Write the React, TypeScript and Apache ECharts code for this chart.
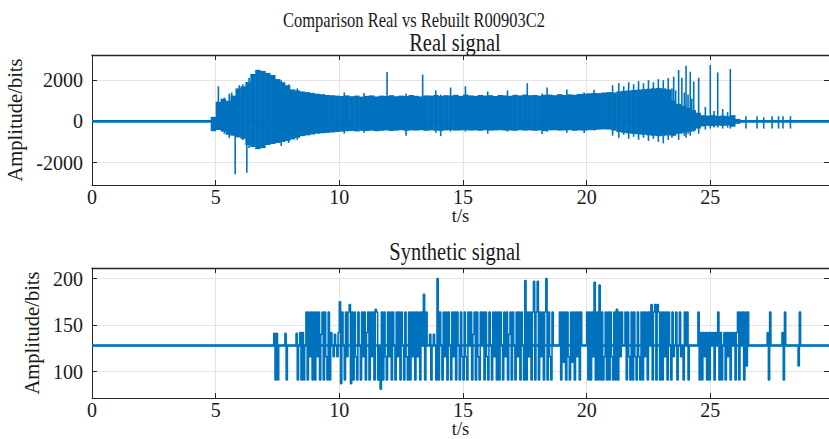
import React, { useEffect, useRef } from 'react';
import * as echarts from 'echarts';

const BLUE = '#0072BD';
const AXIS = '#262626';
const GRID = '#e4e4e4';
const FONT = '"Liberation Serif", "Times New Roman", serif';
const X_MAX = 29.8;

const mainTitle = 'Comparison Real vs Rebuilt R00903C2';
const realTitle = 'Real signal';
const synTitle = 'Synthetic signal';
const xName = 't/s';
const yName = 'Amplitude/bits';

// ---- Real signal: envelope per 0.2 s bin (starting at 4.8 s) ----
const envStart = 4.8;
const envStep = 0.2;
const envHigh = [
  220, 950, 1100, 1000, 1250, 1600, 1700, 1900, 2300, 2500,
  2450, 2350, 2250, 2050, 1900, 1750, 1550, 1500, 1450, 1420,
  1380, 1340, 1320, 1280, 1270, 1250, 1230, 1260, 1220, 1250,
  1200, 1240, 1260, 1210, 1250, 1230, 1270, 1220, 1250, 1230,
  1280, 1240, 1210, 1260, 1250, 1280, 1230, 1270, 1250, 1290,
  1240, 1300, 1260, 1240, 1280, 1250, 1270, 1230, 1280, 1260,
  1240, 1290, 1260, 1300, 1270, 1280, 1250, 1290, 1300, 1270,
  1320, 1280, 1310, 1290, 1330, 1340, 1360, 1380, 1370, 1400,
  1420, 1400, 1450, 1480, 1500, 1520, 1540, 1560, 1580, 1600,
  1620, 1600, 1550, 1000, 850, 750, 650, 550, 420, 300,
  280, 300, 260, 280, 250, 300, 120,
];
const envLow = [
  -480, -420, -500, -650, -700, -780, -850, -1150, -1250, -1350,
  -1300, -1150, -1100, -1050, -1000, -950, -880, -800, -720, -680,
  -640, -600, -580, -560, -540, -520, -500, -480, -470, -490,
  -460, -470, -450, -480, -460, -440, -470, -450, -430, -460,
  -440, -450, -430, -460, -440, -450, -470, -440, -430, -450,
  -440, -430, -450, -440, -460, -430, -450, -440, -430, -450,
  -440, -460, -430, -450, -440, -460, -440, -470, -440, -430,
  -450, -440, -430, -460, -440, -450, -430, -420, -400, -390,
  -400, -450, -520, -560, -590, -610, -630, -650, -680, -700,
  -720, -700, -680, -700, -600, -550, -500, -450, -350, -250,
  -220, -230, -210, -220, -200, -260, -120,
];

// ---- Real signal: isolated spikes (time, low, high) ----
const spikeT = [
  5.11, 5.35, 5.55, 5.65, 5.79, 5.95, 6.1, 6.26, 6.35, 7.65, 7.95, 8.3,
  10.2, 11.0, 11.93, 12.7, 13.37, 13.9, 14.1, 14.5, 15.1, 16.0, 16.8, 17.6,
  18.2, 18.4, 19.2, 19.9, 20.3, 21.05, 21.3, 21.5, 21.7, 21.9, 22.1, 22.3,
  22.5, 22.7, 22.9, 23.1, 23.3, 23.45, 23.52, 23.6, 23.72, 23.85, 23.95, 24.02,
  24.1, 24.19, 24.25, 24.33, 24.53, 24.8, 25.0, 25.15, 25.3, 25.5, 25.7, 25.81,
  26.44, 26.89, 27.16, 27.5, 27.76, 27.94, 28.24,
];
const spikeLo = [
  -300, -600, -800, -500, -2570, -700, -900, -2490, -1300, -1200, -1050, -900,
  -600, -550, -300, -700, -300, -550, -720, -500, -500, -600, -500, -400,
  -620, -500, -550, -560, -450, -700, -800, -650, -850, -750, -900, -800,
  -950, -850, -1000, -1070, -900, -800, -700, -650, -900, -600, -700, -800,
  -600, -700, -500, -500, -600, -400, -350, -300, -300, -350, -300, -350,
  -350, -350, -350, -350, -350, -350, -350,
];
const spikeHi = [
  1700, 1150, 1350, 1400, 900, 1750, 1800, 1900, 2100, 2000, 1800, 1600,
  1400, 1380, 2390, 1350, 2270, 1500, 1300, 1640, 1700, 1450, 1500, 1850,
  1350, 1640, 1550, 1400, 1530, 1750, 1850, 1700, 1900, 1800, 1950, 1850,
  2000, 1900, 2050, 2000, 2100, 1600, 2166, 1500, 2490, 2118, 1400, 2700,
  1300, 2409, 1100, 1925, 2118, 700, 2733, 500, 2377, 600, 450, 2539,
  250, 250, 200, 250, 250, 250, 250,
];
const realBaseline = [0, 0];

// ---- Synthetic signal: one value per 0.05 s from 7.0 s to 28.95 s (one row per second) ----
const synStart = 7.0;
const synStep = 0.05;
const synRest = 128;
const synValues = [
  128, 128, 128, 128, 128, 128, 128, 141, 91, 141, 91, 128, 128, 128, 128, 128, 141, 91, 128, 128,
  128, 128, 128, 128, 128, 141, 91, 128, 142, 91, 142, 91, 128, 164, 91, 164, 116, 164, 91, 164,
  91, 164, 116, 164, 91, 140, 164, 91, 164, 116, 91, 164, 91, 142, 128, 116, 140, 128, 116, 142,
  175, 87, 164, 128, 91, 164, 116, 164, 172, 87, 164, 91, 164, 116, 91, 164, 128, 91, 164, 116,
  164, 91, 142, 164, 91, 164, 116, 164, 91, 167, 164, 91, 128, 81, 164, 91, 164, 116, 91, 164,
  116, 164, 91, 164, 128, 91, 164, 116, 164, 91, 164, 128, 91, 164, 116, 91, 164, 91, 164, 116,
  164, 91, 164, 116, 164, 91, 164, 128, 183, 91, 164, 128, 128, 140, 91, 128, 140, 128, 91, 200,
  91, 164, 128, 91, 164, 116, 164, 91, 164, 128, 91, 164, 116, 164, 91, 164, 128, 91, 164, 116,
  91, 164, 116, 91, 164, 128, 164, 91, 140, 164, 91, 164, 116, 91, 164, 128, 164, 91, 164, 116,
  91, 164, 128, 91, 164, 116, 164, 91, 164, 91, 164, 128, 91, 164, 116, 164, 91, 140, 164, 91,
  164, 128, 91, 164, 116, 164, 91, 164, 128, 91, 198, 91, 164, 116, 164, 91, 164, 197, 91, 164,
  197, 91, 164, 116, 164, 91, 164, 200, 91, 164, 116, 91, 164, 128, 128, 128, 128, 128, 164, 91,
  164, 110, 164, 91, 164, 116, 91, 164, 110, 164, 91, 164, 116, 164, 91, 164, 128, 128, 128, 128,
  164, 91, 164, 91, 164, 116, 196, 91, 164, 91, 193, 91, 164, 91, 116, 164, 91, 164, 91, 164,
  116, 91, 164, 91, 167, 91, 164, 116, 164, 128, 128, 164, 91, 164, 116, 91, 164, 91, 164, 116,
  91, 164, 116, 91, 164, 91, 164, 116, 164, 91, 164, 128, 172, 91, 164, 172, 91, 172, 164, 91,
  164, 91, 164, 116, 164, 91, 164, 128, 91, 164, 116, 128, 164, 91, 128, 164, 116, 128, 91, 164,
  128, 164, 91, 128, 128, 128, 128, 128, 128, 128, 164, 91, 142, 91, 142, 116, 142, 91, 142, 91,
  142, 128, 142, 91, 142, 128, 164, 91, 142, 91, 128, 142, 91, 142, 116, 142, 91, 142, 128, 142,
  91, 142, 164, 91, 164, 128, 164, 91, 164, 106, 164, 128, 128, 128, 128, 128, 128, 128, 128, 128,
  128, 128, 128, 128, 128, 128, 142, 91, 164, 128, 128, 128, 128, 128, 128, 128, 128, 128, 142, 91,
  164, 128, 128, 128, 128, 128, 128, 128, 128, 128, 128, 106, 164, 128, 128, 128, 128, 128, 128, 128,
];

const realRange = [-3090, 3220];
const synRange = [71.5, 211.4];

export default function App() {
  const ref = useRef<HTMLDivElement>(null);
  useEffect(() => {
    if (!ref.current) return;
    const chart = echarts.init(ref.current, null, { renderer: 'svg' });

    const envData = envHigh.map((h, i) => [+(envStart + i * envStep).toFixed(2), envLow[i], h]);
    const spikeData = spikeT.map((t, i) => [t, spikeLo[i], spikeHi[i]]);
    const synData: number[][] = [[0, synRest]];
    synValues.forEach((v, i) => synData.push([+(synStart + i * synStep).toFixed(3), v]));
    synData.push([X_MAX, synRest]);

    const labelStyle = { fontFamily: FONT, fontSize: 20, color: '#1a1a1a' };
    const yNameStyle = { fontFamily: FONT, fontSize: 20.5, color: '#1a1a1a' };
    const xNameStyle = { fontFamily: FONT, fontSize: 18.5, lineHeight: 15, color: '#1a1a1a' };

    const bottomX = (gi: number, gap: number) => ({
      gridIndex: gi, type: 'value', min: 0, max: X_MAX, interval: 5, position: 'bottom',
      axisLine: { show: true, onZero: false, lineStyle: { color: AXIS, width: 1 } },
      axisTick: { show: true, inside: true, length: 5, lineStyle: { color: AXIS } },
      axisLabel: {
        ...labelStyle, lineHeight: 16, margin: 4, showMaxLabel: false,
        formatter: (v: number) => (Math.abs(v % 5) < 1e-9 ? String(v) : ''),
      },
      splitLine: { show: true, lineStyle: { color: GRID, width: 1 } },
      name: xName, nameLocation: 'middle', nameGap: gap, nameMoveOverlap: false, nameTextStyle: xNameStyle,
    });
    const topX = (gi: number) => ({
      gridIndex: gi, type: 'value', min: 0, max: X_MAX, interval: 5, position: 'top',
      axisLine: { show: true, onZero: false, lineStyle: { color: AXIS, width: 1.3 } },
      axisTick: { show: true, inside: true, length: 5, lineStyle: { color: AXIS } },
      axisLabel: { show: false }, splitLine: { show: false },
    });
    const leftY = (gi: number, range: number[], step: number) => ({
      gridIndex: gi, type: 'value', min: range[0], max: range[1], splitNumber: 3, position: 'left',
      axisLine: { show: true, onZero: false, lineStyle: { color: AXIS, width: 1 } },
      axisTick: { show: true, inside: true, length: 5, lineStyle: { color: AXIS } },
      axisLabel: {
        ...labelStyle, margin: 9,
        formatter: (v: number) => (Math.abs(v % step) < 1e-9 ? String(v) : ''),
      },
      splitLine: { show: true, lineStyle: { color: GRID, width: 1 } },
      name: yName, nameLocation: 'middle', nameGap: 45, nameTextStyle: yNameStyle,
    });
    const rightY = (gi: number, range: number[]) => ({
      gridIndex: gi, type: 'value', min: range[0], max: range[1], splitNumber: 3, position: 'right',
      axisLine: { show: true, onZero: false, lineStyle: { color: AXIS, width: 1 } },
      axisTick: { show: true, inside: true, length: 5, lineStyle: { color: AXIS } },
      axisLabel: { show: false }, splitLine: { show: false },
    });

    const titleText = (text: string, x: number, y: number, size: number, sy: number) => ({
      type: 'text', x, y, scaleY: sy, silent: true,
      style: { text, font: `${size}px ${FONT}`, fill: '#1a1a1a', align: 'center', verticalAlign: 'middle' },
    });

    chart.setOption({
      animation: false,
      backgroundColor: '#ffffff',
      grid: [
        { left: 92, top: 55, width: 737, height: 130, containLabel: false, outerBoundsMode: 'none' },
        { left: 92, top: 268, width: 737, height: 130, containLabel: false, outerBoundsMode: 'none' },
      ],
      xAxis: [bottomX(0, 23), topX(0), bottomX(1, 23), topX(1)],
      yAxis: [leftY(0, realRange, 2000), rightY(0, realRange), leftY(1, synRange, 50), rightY(1, synRange)],
      graphic: [
        titleText(mainTitle, 414, 20, 16.5, 1.3),
        titleText(realTitle, 455, 43, 20.5, 1.2),
        titleText(synTitle, 455, 252, 20.5, 1.2),
      ],
      series: [
        {
          type: 'custom', xAxisIndex: 0, yAxisIndex: 0, silent: true, clip: true,
          data: envData, encode: { x: 0, y: [1, 2] },
          renderItem: (params: any, api: any) => {
            const t = api.value(0), lo = api.value(1), hi = api.value(2);
            const a = api.coord([t, hi]);
            const b = api.coord([t + envStep, lo]);
            return {
              type: 'rect',
              shape: { x: a[0], y: a[1], width: b[0] - a[0] + 0.5, height: b[1] - a[1] },
              style: { fill: BLUE },
            };
          },
        },
        {
          type: 'custom', xAxisIndex: 0, yAxisIndex: 0, silent: true, clip: true,
          data: spikeData, encode: { x: 0, y: [1, 2] },
          renderItem: (params: any, api: any) => {
            const t = api.value(0), lo = api.value(1), hi = api.value(2);
            const a = api.coord([t, hi]);
            const b = api.coord([t, lo]);
            return {
              type: 'line',
              shape: { x1: a[0], y1: a[1], x2: b[0], y2: b[1] },
              style: { stroke: BLUE, lineWidth: 1.6 },
            };
          },
        },
        {
          type: 'line', xAxisIndex: 0, yAxisIndex: 0, silent: true, symbol: 'none',
          data: [[0, realBaseline[0]], [X_MAX, realBaseline[1]]],
          lineStyle: { color: BLUE, width: 2.6 },
        },
        {
          type: 'line', xAxisIndex: 2, yAxisIndex: 2, silent: true, symbol: 'none', step: 'end',
          data: synData, lineStyle: { color: BLUE, width: 1.6 },
        },
        {
          type: 'line', xAxisIndex: 2, yAxisIndex: 2, silent: true, symbol: 'none',
          data: [[0, synRest], [X_MAX, synRest]], lineStyle: { color: BLUE, width: 2.4 },
        },
      ],
    });
    return () => chart.dispose();
  }, []);
  return <div ref={ref} style={{ position: 'absolute', left: 0, top: 0, width: 829, height: 439 }} />;
}
